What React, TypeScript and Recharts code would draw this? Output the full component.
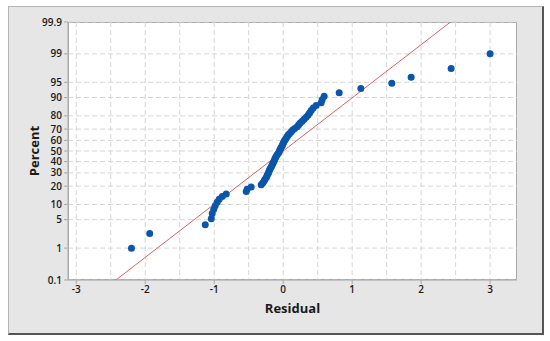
import { CartesianGrid, ReferenceLine, Scatter, ScatterChart, XAxis, YAxis } from 'recharts'

// residuals, sorted ascending
const residuals = [
	-2.2, -1.935, -1.13, -1.043, -1.029, -1.007, -0.986, -0.957, -0.928, -0.884,
	-0.826, -0.536, -0.522, -0.464, -0.319, -0.294, -0.275, -0.261, -0.242, -0.232,
	-0.217, -0.21, -0.199, -0.188, -0.174, -0.164, -0.152, -0.141, -0.13, -0.123,
	-0.112, -0.101, -0.087, -0.072, -0.058, -0.051, -0.039, -0.029, -0.014, -0.007,
	0.004, 0.014, 0.029, 0.043, 0.058, 0.072, 0.094, 0.116, 0.138, 0.167,
	0.203, 0.225, 0.246, 0.275, 0.304, 0.333, 0.362, 0.384, 0.406, 0.435,
	0.478, 0.551, 0.565, 0.594, 0.812, 1.126, 1.575, 1.855, 2.435, 3.0,
]

// plotted percent for each residual
const percents = [
	0.99, 2.41, 3.84, 5.26, 6.68, 8.1, 9.52, 10.94, 12.36, 13.78,
	15.2, 16.62, 18.04, 19.46, 20.88, 22.3, 23.72, 25.14, 26.56, 27.98,
	29.4, 30.82, 32.24, 33.66, 35.09, 36.51, 37.93, 39.35, 40.77, 42.19,
	43.61, 45.03, 46.45, 47.87, 49.29, 50.71, 52.13, 53.55, 54.97, 56.39,
	57.81, 59.23, 60.65, 62.07, 63.49, 64.91, 66.34, 67.76, 69.18, 70.6,
	72.02, 73.44, 74.86, 76.28, 77.7, 79.12, 80.54, 81.96, 83.38, 84.8,
	86.22, 87.64, 89.06, 90.48, 91.9, 93.32, 94.74, 96.16, 97.59, 99.01,
]

const percentTicks = [0.1, 1, 5, 10, 20, 30, 40, 50, 60, 70, 80, 90, 95, 99, 99.9]
const residualTicks = [-3, -2, -1, 0, 1, 2, 3]
const residualGrid = [-3, -2.5, -2, -1.5, -1, -0.5, 0, 0.5, 1, 1.5, 2, 2.5, 3]

// fitted normal line
const fitMean = 0
const fitStdDev = 0.785

// inverse standard normal cdf (Acklam)
function probit(pct: number) {
	const p = pct / 100
	const a = [-39.69683028665376, 220.9460984245205, -275.9285104469687, 138.357751867269, -30.66479806614716, 2.506628277459239]
	const b = [-54.47609879822406, 161.5858368580409, -155.6989798598866, 66.80131188771972, -13.28068155288572]
	const c = [-0.007784894002430293, -0.3223964580411365, -2.400758277161838, -2.549732539343734, 4.374664141464968, 2.938163982698783]
	const d = [0.007784695709041462, 0.3224671290700398, 2.445134137142996, 3.754408661907416]
	const lo = 0.02425
	if (p < lo) {
		const q = Math.sqrt(-2 * Math.log(p))
		return (((((c[0] * q + c[1]) * q + c[2]) * q + c[3]) * q + c[4]) * q + c[5]) / ((((d[0] * q + d[1]) * q + d[2]) * q + d[3]) * q + 1)
	}
	if (p > 1 - lo) {
		const q = Math.sqrt(-2 * Math.log(1 - p))
		return -(((((c[0] * q + c[1]) * q + c[2]) * q + c[3]) * q + c[4]) * q + c[5]) / ((((d[0] * q + d[1]) * q + d[2]) * q + d[3]) * q + 1)
	}
	const q = p - 0.5
	const r = q * q
	return ((((((a[0] * r + a[1]) * r + a[2]) * r + a[3]) * r + a[4]) * r + a[5]) * q) / (((((b[0] * r + b[1]) * r + b[2]) * r + b[3]) * r + b[4]) * r + 1)
}

const points = residuals.map((r, i) => ({ x: r, z: probit(percents[i]!) }))
const zTicks = percentTicks.map(probit)
const zMin = zTicks[0]!
const zMax = zTicks[zTicks.length - 1]!

function pctLabel(z: number) {
	let best = 0
	zTicks.forEach((t, i) => {
		if (Math.abs(t - z) < Math.abs(zTicks[best]! - z)) best = i
	})
	return String(percentTicks[best])
}

const font = '"Open Sans", "Noto Sans", sans-serif'
const tickStyle = { fontSize: 10, fill: '#1a1a1a', fontFamily: font, fontWeight: 600 }

export default function App() {
	const fitLo = fitMean + zMin * fitStdDev
	const fitHi = fitMean + zMax * fitStdDev
	return (
		<div style={{ position: 'absolute', left: 0, top: 0, width: 550, height: 341, background: '#fff' }}>
			<div
				style={{
					position: 'absolute',
					left: 8,
					top: 6,
					width: 533,
					height: 326,
					background: '#e6e6e6',
					borderTop: '1px solid #b4b4b4',
					borderLeft: '1px solid #b4b4b4',
					borderRight: '2px solid #555',
					borderBottom: '2px solid #555',
				}}
			/>
			<div
				style={{
					position: 'absolute',
					left: 68,
					top: 22,
					width: 449,
					height: 258,
					background: '#fff',
					boxSizing: 'border-box',
					border: '1px solid #a8a8a8',
				}}
			/>
			<div style={{ position: 'absolute', left: 0, top: 0 }}>
				<ScatterChart width={550} height={341} margin={{ top: 22, right: 33, bottom: 31, left: 28 }}>
					<CartesianGrid
						stroke="#d6d6d6"
						strokeDasharray="5 3"
						verticalValues={residualGrid}
						horizontalValues={zTicks}
					/>
					<XAxis
						type="number"
						dataKey="x"
						domain={[-3.12, 3.39]}
						ticks={residualTicks}
						allowDataOverflow
						stroke="#a8a8a8"
						tickSize={4}
						tick={tickStyle}
						height={30}
						label={{ value: 'Residual', position: 'insideBottom', offset: -3, style: { fontSize: 13, fontWeight: 700, fill: '#1a1a1a', fontFamily: font } }}
					/>
					<YAxis
						type="number"
						dataKey="z"
						domain={[zMin, zMax]}
						ticks={zTicks}
						allowDataOverflow
						interval={0}
						tickFormatter={pctLabel}
						stroke="#a8a8a8"
						tickSize={4}
						tick={tickStyle}
						width={40}
						label={{ value: 'Percent', angle: -90, position: 'insideLeft', offset: 6, style: { fontSize: 13, fontWeight: 700, fill: '#1a1a1a', fontFamily: font, textAnchor: 'middle' } }}
					/>
					<ReferenceLine
						segment={[{ x: fitLo, y: zMin }, { x: fitHi, y: zMax }]}
						stroke="#e06060"
						strokeWidth={1}
						ifOverflow="hidden"
					/>
					<Scatter
						data={points}
						isAnimationActive={false}
						shape={(p: any) => <circle cx={p.cx} cy={p.cy} r={3.5} fill="#0a56aa" />}
					/>
				</ScatterChart>
			</div>
		</div>
	)
}
